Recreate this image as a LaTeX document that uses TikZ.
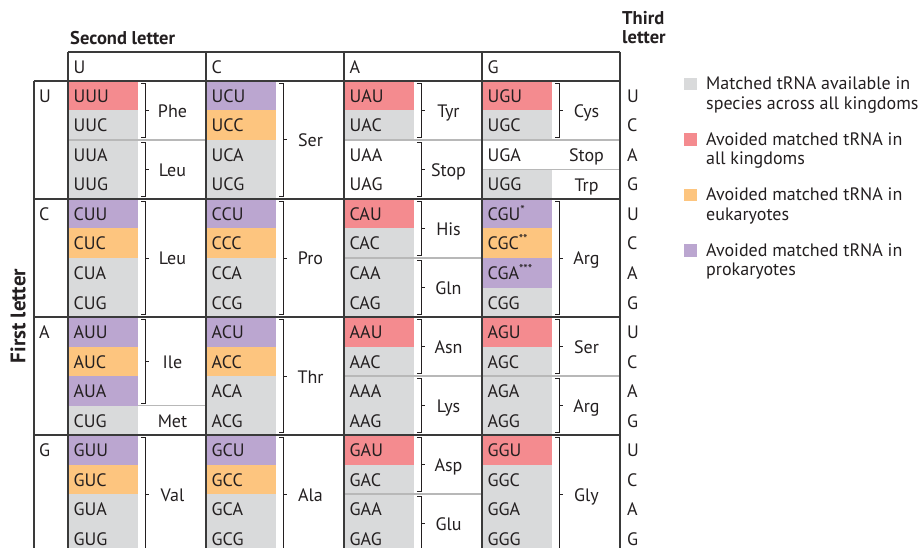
\documentclass[tikz,border=0pt]{standalone}
\usepackage{fontspec}
\setmainfont{PT Sans}
\usetikzlibrary{positioning}

\definecolor{cgray}{HTML}{D9DADB}
\definecolor{cred}{HTML}{F48B8F}
\definecolor{corange}{HTML}{FDC57F}
\definecolor{cpurple}{HTML}{BBA6D0}
\definecolor{gridcol}{HTML}{3A3A3A}
\definecolor{sepcol}{HTML}{B8B8B8}
\definecolor{inkcol}{HTML}{231F20}

\tikzset{
  txt/.style={inner sep=0pt, text=inkcol, font=\fontsize{18}{19.5}\selectfont},
  codon/.style={txt, anchor=base west},
  aa/.style={txt, anchor=base},
  hdr/.style={txt, font=\fontsize{18.5}{18.5}\selectfont\bfseries},
  gridln/.style={gridcol, line width=1.3pt},
  sepln/.style={sepcol, line width=1.3pt},
  brack/.style={inkcol, line width=1pt},
}

% amino acid with bracket: {column}{first row}{last row}{name}
\newcommand{\aabrack}[4]{%
  \draw[brack] (68+138*#1+73,81+29.5*#2+2.5) -- ++(4,0)
    -- (68+138*#1+77,81+29.5*#3+27) -- ++(-4,0);
  \draw[brack] (68+138*#1+77,81+14.75*#2+14.75*#3+14.75) -- ++(4,0);
  \node[aa] (aa-#1-#2) at (68+138*#1+104.5,81+14.75*#2+14.75*#3+21.75) {#4};
}
% amino acid on a single row, no bracket: {column}{row}{name}
\newcommand{\aasingle}[3]{%
  \node[aa] (aa-#1-#2) at (68+138*#1+104.5,81+29.5*#2+21.75) {#3};
}

\begin{document}
\begin{tikzpicture}[x=1pt, y=-1pt]
\useasboundingbox (0,0) rectangle (921,548);

% codon cells, one column per second letter
\foreach \col/\codons in {
  0/{UUU/cred,UUC/cgray,UUA/cgray,UUG/cgray,CUU/cpurple,CUC/corange,CUA/cgray,CUG/cgray,AUU/cpurple,AUC/corange,AUA/cpurple,CUG/cgray,GUU/cpurple,GUC/corange,GUA/cgray,GUG/cgray},
  1/{UCU/cpurple,UCC/corange,UCA/cgray,UCG/cgray,CCU/cpurple,CCC/corange,CCA/cgray,CCG/cgray,ACU/cpurple,ACC/corange,ACA/cgray,ACG/cgray,GCU/cpurple,GCC/corange,GCA/cgray,GCG/cgray},
  2/{UAU/cred,UAC/cgray,UAA/white,UAG/white,CAU/cred,CAC/cgray,CAA/cgray,CAG/cgray,AAU/cred,AAC/cgray,AAA/cgray,AAG/cgray,GAU/cred,GAC/cgray,GAA/cgray,GAG/cgray},
  3/{UGU/cred,UGC/cgray,UGA/white,UGG/cgray,CGU\textsuperscript{*}/cpurple,CGC\textsuperscript{**}/corange,CGA\textsuperscript{***}/cpurple,CGG/cgray,AGU/cred,AGC/cgray,AGA/cgray,AGG/cgray,GGU/cred,GGC/cgray,GGA/cgray,GGG/cgray}}{
  \foreach \cod/\fc [count=\r from 0] in \codons {
    \fill[\fc] (68+138*\col,81+29.5*\r) rectangle ++(70,29.5);
    \node[codon] (cd-\col-\r) at (68+138*\col+5.5,81+29.5*\r+21.5) {\cod};
  }
}

% thin separators inside a column
\foreach \col/\r in {0/2, 2/2, 2/6, 2/10, 2/14, 3/2, 3/3, 3/10}
  \draw[sepln] (68+138*\col,81+29.5*\r) -- ++(138,0);
\draw[sepln] (138,81+29.5*11) -- (206,81+29.5*11);

% table frame
\draw[gridln] (68,52) -- (620,52);
\foreach \x in {68,206,344,482,620}
  \draw[gridln] (\x,52) -- (\x,548);
\draw[gridln] (34,81) -- (34,548);
\foreach \g in {0,1,2,3}
  \draw[gridln] (34,81+118*\g) -- (620,81+118*\g);

% amino acids
\aabrack{0}{0}{1}{Phe}
\aabrack{0}{2}{3}{Leu}
\aabrack{0}{4}{7}{Leu}
\aabrack{0}{8}{10}{Ile}
\aasingle{0}{11}{Met}
\aabrack{0}{12}{15}{Val}
\aabrack{1}{0}{3}{Ser}
\aabrack{1}{4}{7}{Pro}
\aabrack{1}{8}{11}{Thr}
\aabrack{1}{12}{15}{Ala}
\aabrack{2}{0}{1}{Tyr}
\aabrack{2}{2}{3}{Stop}
\aabrack{2}{4}{5}{His}
\aabrack{2}{6}{7}{Gln}
\aabrack{2}{8}{9}{Asn}
\aabrack{2}{10}{11}{Lys}
\aabrack{2}{12}{13}{Asp}
\aabrack{2}{14}{15}{Glu}
\aabrack{3}{0}{1}{Cys}
\aasingle{3}{2}{Stop}
\aasingle{3}{3}{Trp}
\aabrack{3}{4}{7}{Arg}
\aabrack{3}{8}{9}{Ser}
\aabrack{3}{10}{11}{Arg}
\aabrack{3}{12}{15}{Gly}

% letters of the codon
\foreach \l [count=\c from 0] in {U,C,A,G} {
  \node[codon] (sl-\l) at (68+138*\c+5.5,73.3) {\l};
  \node[codon] (fl-\l) at (39,81+118*\c+21.5) {\l};
  \foreach \g in {0,1,2,3}
    \node[codon] (tl-\g-\l) at (627,81+118*\g+29.5*\c+21.5) {\l};
}

% headings
\node[hdr, anchor=base west] (second) at (70,44.3) {Second letter};
\node[hdr, anchor=north west, align=left] (third) at (622,11.5) {Third\\letter};
\node[hdr, font=\fontsize{21}{21}\selectfont\bfseries, rotate=90] (first) at (18,316) {First letter};

% legend
\foreach \fc/\desc [count=\i from 0] in {
  cgray/{Matched tRNA available in\\species across all kingdoms},
  cred/{Avoided matched tRNA in\\all kingdoms},
  corange/{Avoided matched tRNA in\\eukaryotes},
  cpurple/{Avoided matched tRNA in\\prokaryotes}} {
  \fill[\fc] (684,78+55.5*\i) rectangle ++(12.5,12.5);
  \node[txt, anchor=north west, align=left] (lg-\i) at (706,77+55.5*\i) {\desc};
}

\end{tikzpicture}
\end{document}
